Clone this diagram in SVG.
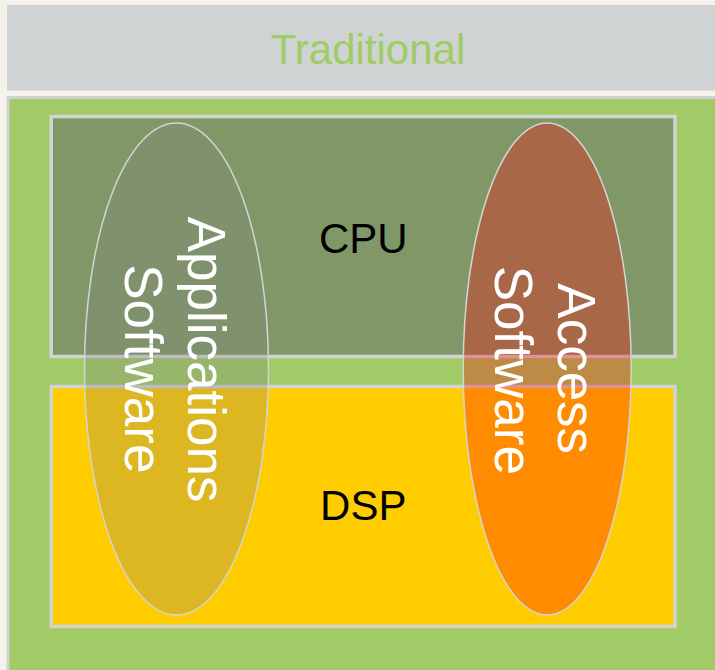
<svg xmlns="http://www.w3.org/2000/svg" width="715" height="670" viewBox="0 0 715 670">
  <style>
    .box { stroke: #d2d4d4; stroke-width: 3.5; }
    .ell { stroke: #d4d4d4; stroke-width: 1.5; }
    .lbl { font-family: "Liberation Sans", Arial, sans-serif; font-size: 42px; fill: #000000; text-anchor: middle; }
    .vt { font-family: "Liberation Sans", Arial, sans-serif; font-size: 53px; fill: #ffffff; text-anchor: middle; }
  </style>
  <rect x="0" y="0" width="715" height="670" fill="#f5f2ec"/>
  <g id="banner">
    <rect x="7" y="5" width="710" height="85.5" fill="#cfd3d3"/>
    <text x="368" y="64" font-family="Liberation Sans, Arial, sans-serif" font-size="42px" fill="#a0cc64" text-anchor="middle">Traditional</text>
  </g>
  <g id="frame">
    <rect x="8" y="97.5" width="720" height="590" fill="#a1cb66" stroke="#d0d2d2" stroke-width="3"/>
  </g>
  <g id="cpu">
    <rect class="box" x="51.25" y="116.5" width="623.75" height="240" fill="#809868"/>
    <text class="lbl" x="363.3" y="252.7">CPU</text>
  </g>
  <g id="dsp">
    <rect class="box" x="51.25" y="386.5" width="623.75" height="240" fill="#ffcc00"/>
    <text class="lbl" x="363.3" y="520">DSP</text>
  </g>
  <g id="applications-software">
    <ellipse class="ell" cx="176.5" cy="369" rx="92" ry="246" fill="rgba(126,126,126,0.27)"/>
    <text class="vt" transform="translate(188.3,359.6) rotate(90)" x="0" y="0">Applications</text>
    <text class="vt" transform="translate(125,368.8) rotate(90)" x="0" y="0">Software</text>
  </g>
  <g id="access-software">
    <ellipse class="ell" cx="547.2" cy="369" rx="84" ry="246" fill="rgba(255,0,0,0.315)"/>
    <text class="vt" transform="translate(558.3,368.7) rotate(90)" x="0" y="0">Access</text>
    <text class="vt" transform="translate(495,370.3) rotate(90)" x="0" y="0">Software</text>
  </g>
  <g id="connectors"/>
</svg>
